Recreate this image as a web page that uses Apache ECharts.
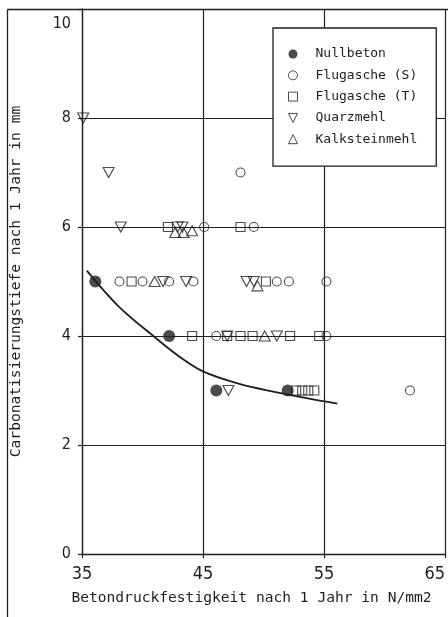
<!DOCTYPE html>
<html>
<head>
<meta charset="utf-8">
<script src="https://cdn.jsdelivr.net/npm/echarts@6/dist/echarts.min.js"></script>
<style>
  html, body { margin: 0; padding: 0; background: #ffffff; }
  #chart { width: 448px; height: 617px; }
</style>
</head>
<body>
<div id="chart"></div>
<script>
// Axis ranges and tick labels
const xMin = 35, xMax = 65, xStep = 10;
const yMin = 0, yMax = 10, yStep = 2;

// Carbonation depth after 1 year [mm] vs. compressive strength after 1 year [N/mm2]
const nullbeton = [[36.1, 5], [42.2, 4], [46.1, 3], [52.0, 3]];
const flugascheS = [
  [45.1, 6], [48.1, 7], [49.2, 6],
  [38.1, 5], [40.0, 5], [42.2, 5], [44.2, 5], [51.1, 5], [52.1, 5], [55.2, 5],
  [46.1, 4], [55.2, 4],
  [62.1, 3]
];
const flugascheT = [
  [42.1, 6], [48.1, 6],
  [39.1, 5], [50.2, 5],
  [44.1, 4], [47.0, 4], [48.1, 4], [49.1, 4], [52.2, 4], [54.6, 4],
  [52.7, 3], [53.2, 3], [53.7, 3], [54.2, 3]
];
const quarzmehl = [
  [35.1, 8], [37.2, 7], [38.2, 6], [42.9, 6], [43.3, 6],
  [41.7, 5], [43.6, 5], [48.6, 5], [49.2, 5],
  [47.0, 4], [51.1, 4], [47.1, 3]
];
const kalksteinmehl = [
  [42.7, 5.9], [43.4, 5.9], [44.1, 5.93],
  [41.0, 5], [49.5, 4.92], [50.1, 4]
];
// Trend curve for the plain concrete (Nullbeton)
const trend = [
  [35.4, 5.2], [38.0, 4.55], [41.0, 3.98], [43.0, 3.63], [45.0, 3.35],
  [48.0, 3.12], [51.0, 2.97], [54.0, 2.84], [56.1, 2.76]
];

const ink = '#1e1e1e';
const mono = "'DejaVu Sans Mono', 'Liberation Mono', monospace";
const narrow = "'Liberation Sans Narrow', 'DejaVu Sans Condensed', sans-serif";

const open = { color: 'rgba(0,0,0,0)', borderColor: ink, borderWidth: 1.1 };
const downTriangle = 'path://M0,0 L10,0 L5,10 Z';

const chart = echarts.init(document.getElementById('chart'), null, { renderer: 'canvas' });

chart.setOption({
  backgroundColor: '#ffffff',
  animation: false,
  grid: { left: 82, right: -1, top: 9, bottom: 63, containLabel: false },
  graphic: [
    { type: 'line', shape: { x1: 7.5, y1: 9.5, x2: 448, y2: 9.5 }, style: { stroke: ink, lineWidth: 1.3 } },
    { type: 'line', shape: { x1: 7.5, y1: 9.5, x2: 7.5, y2: 617 }, style: { stroke: ink, lineWidth: 1.3 } }
  ],
  legend: {
    orient: 'vertical',
    left: 273,
    top: 28,
    padding: [19, 19, 20, 15],
    itemWidth: 9,
    itemHeight: 9,
    itemGap: 7.3,
    borderColor: ink,
    borderWidth: 1.3,
    backgroundColor: '#ffffff',
    itemStyle: { borderWidth: 1 },
    textStyle: { fontFamily: mono, fontSize: 13, color: ink, lineHeight: 14, padding: [0, 0, 0, 13] },
    data: [
      'Nullbeton',
      'Flugasche (S)',
      'Flugasche (T)',
      { name: 'Quarzmehl', icon: downTriangle },
      'Kalksteinmehl'
    ]
  },
  xAxis: {
    type: 'value',
    min: xMin, max: xMax, interval: xStep,
    name: 'Betondruckfestigkeit nach 1 Jahr in N/mm2',
    nameLocation: 'middle',
    nameGap: 37,
    nameTextStyle: { fontFamily: mono, fontSize: 14.6, color: ink, padding: [0, 24, 0, 0] },
    axisLine: { show: true, lineStyle: { color: ink, width: 1.3 } },
    axisTick: { show: true, inside: false, length: 4, lineStyle: { color: ink, width: 1.2 } },
    axisLabel: { margin: 11, fontFamily: narrow, fontSize: 18, color: ink, alignMaxLabel: 'right' },
    splitLine: { show: true, lineStyle: { color: ink, width: 1.2 } }
  },
  yAxis: {
    type: 'value',
    min: yMin, max: yMax, interval: yStep,
    name: 'Carbonatisierungstiefe nach 1 Jahr in mm',
    nameLocation: 'middle',
    nameRotate: 90,
    nameGap: 58,
    nameTextStyle: { fontFamily: mono, fontSize: 14.6, color: ink },
    axisLine: { show: true, lineStyle: { color: ink, width: 1.3 } },
    axisTick: { show: true, inside: false, length: 4, lineStyle: { color: ink, width: 1.2 } },
    axisLabel: {
      margin: 11, fontFamily: narrow, fontSize: 16, color: ink,
      formatter: v => (v === yMax ? '{top|' + v + '}' : String(v)),
      rich: { top: { padding: [30, 0, 0, 0], fontFamily: narrow, fontSize: 16, color: ink } }
    },
    splitLine: { show: true, lineStyle: { color: ink, width: 1.2 } }
  },
  series: [
    {
      name: 'Trend', type: 'line', data: trend, smooth: 0.35, showSymbol: false,
      lineStyle: { color: ink, width: 1.8 }, z: 1, silent: true
    },
    {
      name: 'Nullbeton', type: 'scatter', data: nullbeton, symbol: 'circle', symbolSize: 12,
      itemStyle: { color: ink }, z: 4
    },
    {
      name: 'Flugasche (S)', type: 'scatter', data: flugascheS, symbol: 'circle', symbolSize: 9,
      itemStyle: open, z: 3
    },
    {
      name: 'Flugasche (T)', type: 'scatter', data: flugascheT, symbol: 'rect', symbolSize: 9,
      itemStyle: open, z: 3
    },
    {
      name: 'Quarzmehl', type: 'scatter', data: quarzmehl, symbol: downTriangle,
      symbolSize: [11, 10], itemStyle: open, z: 3
    },
    {
      name: 'Kalksteinmehl', type: 'scatter', data: kalksteinmehl, symbol: 'triangle',
      symbolSize: [11, 10], itemStyle: open, z: 3
    }
  ]
});
</script>
</body>
</html>
